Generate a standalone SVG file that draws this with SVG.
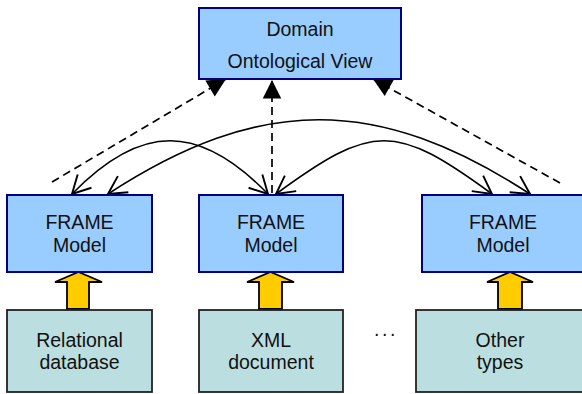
<svg xmlns="http://www.w3.org/2000/svg" width="582" height="394" viewBox="0 0 582 394">
<defs>
<style>
.t{font-family:"Liberation Sans",Arial,Helvetica,sans-serif;font-size:19.5px;fill:#111;text-anchor:middle}
.frame{fill:#99ccff;stroke:#000080;stroke-width:2}
.src{fill:#bbdfe0;stroke:#222;stroke-width:1.8}
.dash{fill:none;stroke:#000;stroke-width:1.7;stroke-dasharray:8,5}
.curve{fill:none;stroke:#000;stroke-width:1.6}
.up{fill:#ffcc00;stroke:#000;stroke-width:1.8;stroke-linejoin:miter}
</style>
<marker id="tri" markerUnits="userSpaceOnUse" markerWidth="22" markerHeight="22" viewBox="-18 -9 19 18" refX="0" refY="0" orient="auto">
<path d="M0,0 L-16,-8 L-16,8 Z" fill="#000"/>
</marker>
<marker id="vee" markerUnits="userSpaceOnUse" markerWidth="24" markerHeight="24" viewBox="-18 -10 20 20" refX="0" refY="0" orient="auto-start-reverse">
<path d="M-15,-8 L0,0 L-15,8" fill="none" stroke="#000" stroke-width="1.6"/>
</marker>
</defs>
<g id="connectors">
<path class="dash" d="M52,182 L226,79" marker-end="url(#tri)"/>
<path class="dash" d="M272,193 L272,80" marker-end="url(#tri)"/>
<path class="dash" d="M560,183 L373,79" marker-end="url(#tri)"/>
<path class="curve" d="M72,194 C141,123 199,123 268,194" marker-start="url(#vee)" marker-end="url(#vee)"/>
<path class="curve" d="M108,194 C260,95 378,95 530,194" marker-start="url(#vee)" marker-end="url(#vee)"/>
<path class="curve" d="M276,194 C373,123 395,123 492,194" marker-start="url(#vee)" marker-end="url(#vee)"/>
<path class="up" d="M67,309 L67,282 L55,282 L78.5,272 L102,282 L89,282 L89,309 Z"/>
<path class="up" d="M259,309 L259,282 L247,282 L270.5,272 L294,282 L282,282 L282,309 Z"/>
<path class="up" d="M498,309 L498,282 L487,282 L510,272 L533,282 L522,282 L522,309 Z"/>
</g>
<g id="domain">
<rect class="frame" x="199" y="8" width="202" height="71"/>
<text class="t" x="300" y="36">Domain</text>
<text class="t" x="300" y="68">Ontological View</text>
</g>
<g id="frame1">
<rect class="frame" x="7" y="195" width="145" height="77"/>
<text class="t" x="79.5" y="229">FRAME</text>
<text class="t" x="79.5" y="252">Model</text>
</g>
<g id="frame2">
<rect class="frame" x="199" y="195" width="144" height="77"/>
<text class="t" x="271" y="229">FRAME</text>
<text class="t" x="271" y="252">Model</text>
</g>
<g id="frame3">
<rect class="frame" x="422" y="195" width="165" height="77"/>
<text class="t" x="503" y="229">FRAME</text>
<text class="t" x="503" y="252">Model</text>
</g>
<g id="relational">
<rect class="src" x="7" y="310" width="145" height="82"/>
<text class="t" x="79.5" y="347">Relational</text>
<text class="t" x="79.5" y="369">database</text>
</g>
<g id="xml">
<rect class="src" x="199" y="310" width="144" height="82"/>
<text class="t" x="271" y="347">XML</text>
<text class="t" x="271" y="369">document</text>
</g>
<g id="dots">
<text class="t" x="386" y="336" style="letter-spacing:2.5px">...</text>
</g>
<g id="other">
<rect class="src" x="416" y="310" width="172" height="82"/>
<text class="t" x="500" y="347">Other</text>
<text class="t" x="500" y="369">types</text>
</g>
</svg>
